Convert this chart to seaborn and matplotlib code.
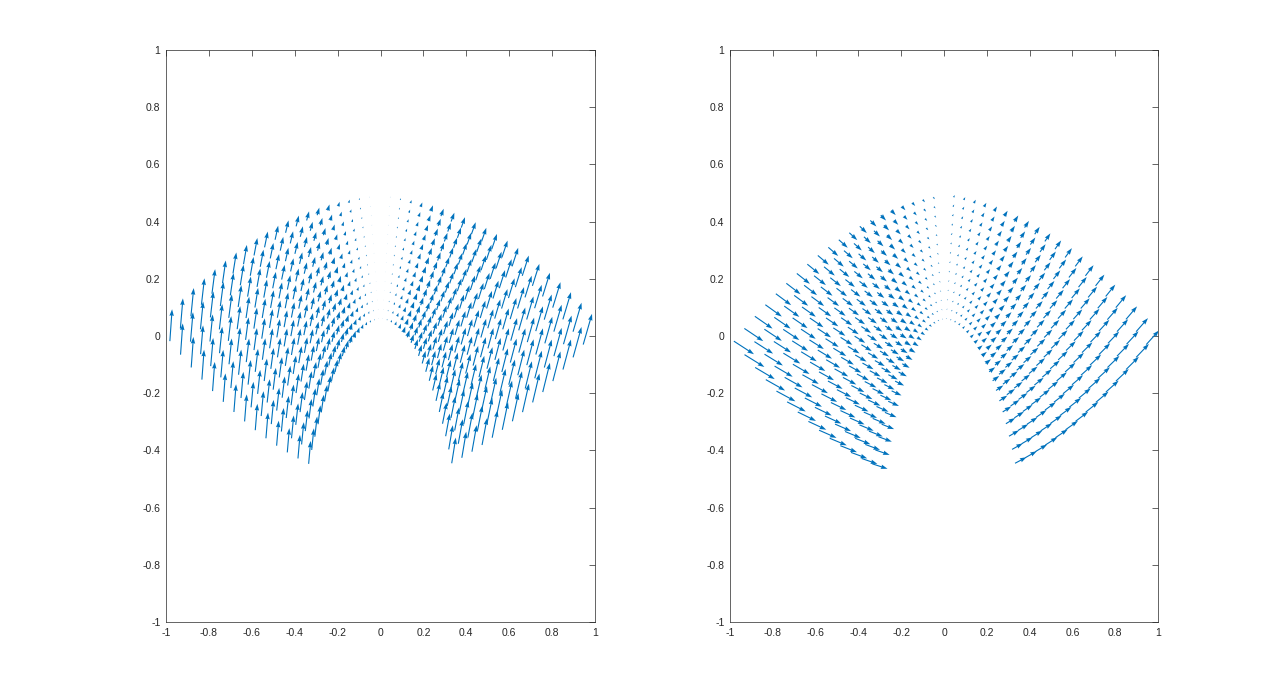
import numpy as np
import matplotlib
matplotlib.use('Agg')
import matplotlib.pyplot as plt
import seaborn as sns

# each panel shows two "wings" of arrows on a curved grid
# points along the outer edge L-B (s) and along the top edge L-T (t)
n_s = 14
n_t = 20

# wing corners, order: L (outer), B (bottom), T (top), C (centre)
left_wing_x = [-0.982, -0.335, -0.050, -0.008]
left_wing_y = [-0.018, -0.447, 0.485, 0.060]
right_wing_x = [0.945, 0.332, 0.045, 0.010]
right_wing_y = [-0.030, -0.445, 0.485, 0.060]

# offset of the middle of each curved edge from its chord: edge L-B, edge L-T, edge B-C
left_bulge_x = [0.0, 0.0, -0.015]
left_bulge_y = [-0.05, 0.09, 0.11]
right_bulge_x = [0.0, 0.0, 0.015]
right_bulge_y = [-0.045, 0.09, 0.11]

# arrows at the corners L, B, T, C: screen direction (deg) and length (px)
p1_left_ang = [86, 85, 70, 70]
p1_left_len = [32, 23, 0.6, 0.3]
p1_right_ang = [74, 81, 68, 68]
p1_right_len = [32, 26, 0.6, 0.3]
p2_left_ang = [-33, -18, -50, -40]
p2_left_len = [24, 16, 2.5, 1.0]
p2_right_ang = [48, 28, 62, 50]
p2_right_len = [19, 13, 2.5, 1.0]

ticks = [-1, -0.8, -0.6, -0.4, -0.2, 0, 0.2, 0.4, 0.6, 0.8, 1]
tick_labels = ['-1', '-0.8', '-0.6', '-0.4', '-0.2', '0', '0.2', '0.4', '0.6', '0.8', '1']

sns.set_style('white')
plt.rcParams['font.family'] = ['Liberation Sans', 'DejaVu Sans']
plt.rcParams['axes.unicode_minus'] = False

s, t = np.meshgrid(np.linspace(0, 1, n_s), np.linspace(0, 1, n_t), indexing='ij')


def corner_blend(vals, u, v):
    vL, vB, vT, vC = vals
    return (1 - u) * (1 - v) * vL + u * (1 - v) * vB + (1 - u) * v * vT + u * v * vC


def wing_points(cx, cy, bx, by):
    x = corner_blend(cx, s, t)
    y = corner_blend(cy, s, t)
    hs = 4 * s * (1 - s)
    ht = 4 * t * (1 - t)
    x = x + (1 - t) * hs * bx[0] + (1 - s) * ht * bx[1] + s * ht * bx[2]
    y = y + (1 - t) * hs * by[0] + (1 - s) * ht * by[1] + s * ht * by[2]
    return x.ravel(), y.ravel()


fig = plt.figure(figsize=(12.8, 7), dpi=100)
ax1 = fig.add_axes([166 / 1280, 78 / 700, 429 / 1280, 572 / 700])
ax2 = fig.add_axes([730 / 1280, 78 / 700, 428 / 1280, 572 / 700])


def wing_arrows(ax, ang, length):
    pos = ax.get_position()
    ppx = pos.width * 1280 / 2
    ppy = pos.height * 700 / 2
    a = np.deg2rad(corner_blend(ang, s, t))
    tp = 1 - (1 - t) ** 1.1
    l = corner_blend(length, s, tp)
    return (l * np.cos(a) / ppx).ravel(), (l * np.sin(a) / ppy).ravel()


lx, ly = wing_points(left_wing_x, left_wing_y, left_bulge_x, left_bulge_y)
rx, ry = wing_points(right_wing_x, right_wing_y, right_bulge_x, right_bulge_y)

panels = [
    (ax1, p1_left_ang, p1_left_len, p1_right_ang, p1_right_len),
    (ax2, p2_left_ang, p2_left_len, p2_right_ang, p2_right_len),
]

for ax, la, ll, ra, rl in panels:
    X = np.concatenate([lx, rx])
    Y = np.concatenate([ly, ry])
    u1, v1 = wing_arrows(ax, la, ll)
    u2, v2 = wing_arrows(ax, ra, rl)
    U = np.concatenate([u1, u2])
    V = np.concatenate([v1, v2])
    ax.quiver(X, Y, U, V, angles='xy', scale_units='xy', scale=1,
              color='#0072BD', width=0.0026, headwidth=4, headlength=6,
              headaxislength=5.5, minlength=0.3, minshaft=1)
    ax.set_xlim(-1, 1)
    ax.set_ylim(-1, 1)
    ax.set_xticks(ticks)
    ax.set_xticklabels(tick_labels)
    ax.set_yticks(ticks)
    ax.set_yticklabels(tick_labels)
    ax.tick_params(direction='in', top=True, right=True, length=4, width=0.5,
                   color='#262626', labelcolor='#262626', labelsize=7.5, pad=4)
    for sp in ax.spines.values():
        sp.set_visible(True)
        sp.set_color('#262626')
        sp.set_linewidth(0.5)
    ax.grid(False)

fig.savefig('out.png', dpi=100, facecolor='white')
